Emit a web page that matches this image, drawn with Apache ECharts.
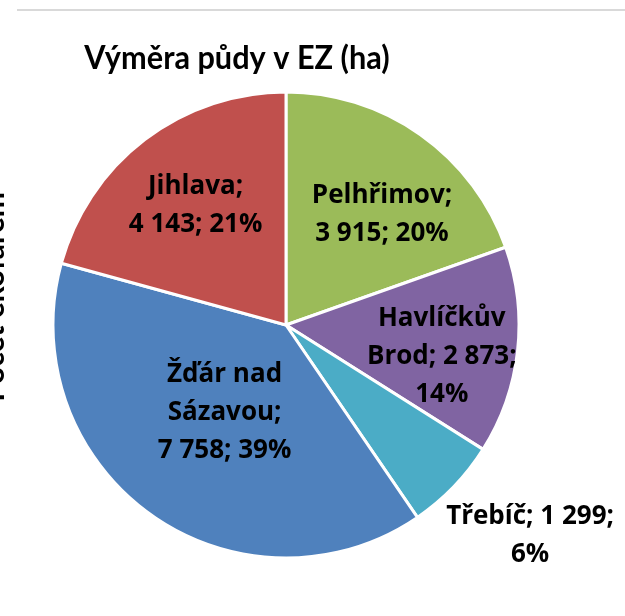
<!doctype html>
<html>
<head>
    <meta charset="utf-8">
    <title>Výměra půdy v EZ</title>
    <script src="https://cdn.jsdelivr.net/npm/echarts@6/dist/echarts.min.js"></script>
    <style>
        html, body { margin: 0; padding: 0; background: #fff; }
        #container { width: 625px; height: 616px; }
    </style>
</head>
<body>
    <div id="container"></div>
    <script type="text/javascript">
        // okresy a výměra (ha)
        var districts = ['Pelhřimov', 'Havlíčkův Brod', 'Třebíč', 'Žďár nad Sázavou', 'Jihlava'];
        var areas = [3915, 2873, 1299, 7758, 4143];
        var percents = ['20%', '14%', '6%', '39%', '21%'];
        // popisky jak v excelu (zalomení řádků)
        var labelTexts = [
            'Pelhřimov;\n3 915; 20%',
            'Havlíčkův\nBrod; 2 873;\n14%',
            'Třebíč; 1 299;\n6%',
            'Žďár nad\nSázavou;\n7 758; 39%',
            'Jihlava;\n4 143; 21%'
        ];
        var colors = ['#9BBB59', '#8064A2', '#4BACC6', '#4F81BD', '#C0504D'];
        // posun popisků oproti středu výseče
        var labelShift = [[27, -13], [37, 18], [158, 128], [8, -10], [-18, -24]];

        var pieData = [];
        for (var i = 0; i < districts.length; i++) {
            pieData.push({
                name: districts[i],
                value: areas[i],
                itemStyle: { color: colors[i] },
                label: { formatter: labelTexts[i] }
            });
        }

        var option = {
            animation: false,
            graphic: [{
                type: 'rect',
                shape: { x: 17, y: 9, width: 620, height: 2 },
                style: { fill: '#d9d9d9' }
            }, {
                type: 'text',
                x: 237, y: 75,
                style: {
                    text: 'Výměra půdy v EZ (ha)',
                    font: 'bold 33px Lato',
                    fill: '#000',
                    textAlign: 'center',
                    textVerticalAlign: 'bottom'
                },
                scaleX: 0.93
            }, {
                type: 'text',
                x: 9, y: 297,
                rotation: Math.PI / 2,
                style: {
                    text: 'Počet ekofarem',
                    font: 'bold 30px Lato',
                    fill: '#000',
                    textAlign: 'center',
                    textVerticalAlign: 'bottom'
                }
            }],
            series: [{
                type: 'pie',
                center: [286, 325],
                radius: 233,
                startAngle: 90,
                clockwise: true,
                itemStyle: { borderColor: '#fff', borderWidth: 3 },
                label: {
                    show: true,
                    position: 'inside',
                    color: '#000',
                    fontFamily: 'Open Sans',
                    fontWeight: 'bold',
                    fontSize: 26,
                    lineHeight: 38,
                    align: 'center'
                },
                labelLine: { show: false },
                labelLayout: function (params) {
                    var s = labelShift[params.dataIndex];
                    return { dx: s[0], dy: s[1] };
                },
                emphasis: { disabled: true },
                data: pieData
            }]
        };

        var myChart = echarts.init(document.getElementById('container'));
        myChart.setOption(option);
    </script>
</body>
</html>
